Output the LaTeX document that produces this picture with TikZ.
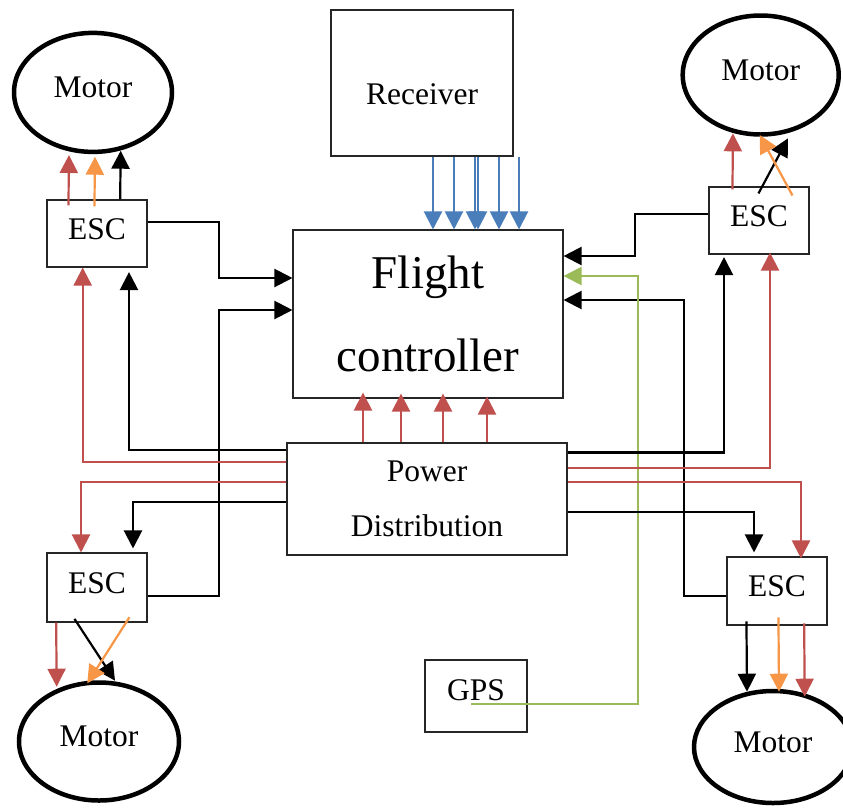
\documentclass[tikz,border=0pt]{standalone}
\usepackage{fontspec}
\setmainfont{Liberation Serif}
\usetikzlibrary{arrows.meta,calc,shapes.geometric}
\definecolor{wred}{HTML}{C0504D}
\definecolor{worange}{HTML}{F79646}
\definecolor{wblue}{HTML}{4A7EBB}
\definecolor{wgreen}{HTML}{9BBB59}
\begin{document}
\begin{tikzpicture}[x=1pt,y=-1pt,
  box/.style={draw=black!85,line width=1.1pt,rectangle,inner sep=0pt,font=\fontsize{31.5}{38}\selectfont},
  escbox/.style={box,minimum width=100pt,text depth=9pt},
  motorst/.style={draw,ellipse,line width=4.5pt,inner sep=0pt,text depth=10pt,font=\fontsize{31.5}{38}\selectfont},
  con/.style={line width=2.2pt,-{Triangle[length=18pt 0 0,width=18pt 0 0]}},
  kcon/.style={con,black},
  rcon/.style={con,wred},
  ocon/.style={con,worange},
  bcon/.style={con,wblue},
  gcon/.style={con,wgreen}]
\useasboundingbox (0,0) rectangle (843,807);
\fill[white] (0,0) rectangle (843,807);
% nodes
\node[box,minimum width=182pt,minimum height=146pt,text height=43pt] (rec) at (422,83) {Receiver};
\node[box,minimum width=270pt,minimum height=168pt,align=center,font=\fontsize{47}{82.7}\selectfont] (fc) at (428,314) {Flight\\controller};
\node[box,minimum width=280pt,minimum height=112pt,align=center,font=\fontsize{31.5}{54.6}\selectfont] (pd) at (427,499) {Power\\Distribution};
\node[box,minimum width=102pt,minimum height=72pt,text depth=12pt] (gps) at (476,696) {GPS};
\node[escbox,minimum height=67pt] (esc1) at (97,233.5) {ESC};
\node[escbox,minimum height=67pt] (esc2) at (759,220.5) {ESC};
\node[escbox,minimum height=69pt] (esc3) at (97,587.5) {ESC};
\node[escbox,minimum height=68pt] (esc4) at (777,591) {ESC};
\node[motorst,minimum width=158pt,minimum height=119pt] (m1) at (93,92.4) {Motor};
\node[motorst,minimum width=156pt,minimum height=119pt] (m2) at (760.7,75) {Motor};
\node[motorst,minimum width=160pt,minimum height=118pt] (m3) at (99,741.5) {Motor};
\node[motorst,minimum width=158pt,minimum height=112pt] (m4) at (773,747) {Motor};
% receiver -> flight controller
\foreach \xx in {433,454,475,478,499,519}
  \draw[bcon] (rec.south-|\xx,0) -- (fc.north-|\xx,0);
% power distribution -> flight controller
\foreach \xx/\s in {363/6,401/5,443/5,487/2}
  \draw[rcon,shorten >=-\s pt] (pd.north-|\xx,0) -- (fc.south-|\xx,0);
% ESCs -> flight controller
\draw[kcon] (esc1.east|-0,222) -- (219,222) |- (fc.west|-0,278);
\draw[kcon] (esc3.east|-0,596) -- (219,596) |- (fc.west|-0,310);
\draw[kcon] (esc2.west|-0,214) -- (635,214) |- (fc.east|-0,256);
\draw[kcon] (esc4.west|-0,596) -- (684,596) |- (fc.east|-0,300);
% GPS -> flight controller
\draw[gcon] ($(gps.center)+(-5,8)$) -- (638,704) |- (fc.east|-0,276);
% power distribution -> ESCs (left)
\draw[kcon,shorten >=4.5pt] (pd.west|-0,450) -| (esc1.south-|129,0);
\draw[rcon] (pd.west|-0,462) -| (esc1.south-|82.7,0);
\draw[rcon] (pd.west|-0,482) -| (esc3.north-|81,0);
\draw[kcon,shorten >=4pt] (pd.west|-0,502) -| (esc3.north-|133,0);
% power distribution -> ESCs (right)
\draw[kcon,shorten >=2.5pt] (pd.east|-0,452.5) -| (esc2.south-|724,0);
\draw[rcon,shorten >=-2pt] (pd.east|-0,468) -| (esc2.south-|770,0);
\draw[rcon,shorten >=-2pt] (pd.east|-0,482) -| (esc4.north-|801,0);
\draw[kcon,shorten >=4pt] (pd.east|-0,512) -| (esc4.north-|754,0);
% ESC 1 -> motor 1
\draw[rcon] ($(esc1.north west)+(22,6)$) -- ($(m1.center)+(-24,62.6)$);
\draw[ocon] ($(esc1.north west)+(48,7)$) -- ($(m1.center)+(2,64.3)$);
\draw[kcon] ($(esc1.north west)+(73.7,0)$) -- ($(m1.center)+(27.7,58.3)$);
% ESC 2 -> motor 2
\draw[rcon] ($(esc2.north west)+(24,3)$) -- ($(m2.center)+(-27.7,58.3)$);
\draw[kcon] ($(esc2.north west)+(50,7)$) -- ($(m2.center)+(27.3,63.3)$);
\draw[ocon] ($(esc2.north west)+(84,9)$) -- ($(m2.center)+(-1,60)$);
% ESC 3 -> motor 3
\draw[rcon] ($(esc3.south west)+(9.7,0)$) -- ($(m3.center)+(-42.3,-54.8)$);
\draw[kcon] ($(esc3.south west)+(28,-3.7)$) -- ($(m3.center)+(16,-60.8)$);
\draw[ocon] ($(esc3.south west)+(83,-5.3)$) -- ($(m3.center)+(-11.7,-58.2)$);
% ESC 4 -> motor 4
\draw[kcon] ($(esc4.south west)+(20,-4.3)$) -- ($(m4.center)+(-26,-55.3)$);
\draw[ocon] ($(esc4.south west)+(52,-8.3)$) -- ($(m4.center)+(6,-55.3)$);
\draw[rcon] ($(esc4.south west)+(77.7,-2.3)$) -- ($(m4.center)+(31.7,-50.3)$);
\end{tikzpicture}
\end{document}
